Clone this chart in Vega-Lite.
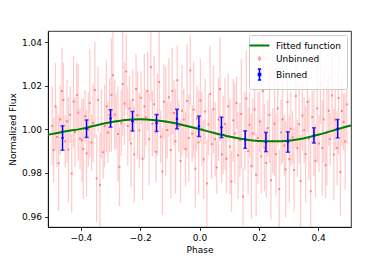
{
"$schema": "https://vega.github.io/schema/vega-lite/v6.json",
"autosize": {"type": "none"},
"padding": {"left": 48, "top": 31, "right": 39, "bottom": 33},
"width": 303,
"height": 196,
"background": "white",
"datasets": {
"curve": [
{"p":-0.511,"f":0.9975},{"p":-0.5,"f":0.9978},{"p":-0.45,"f":0.9991},{"p":-0.4,"f":1.0002},{"p":-0.35,"f":1.0018},{"p":-0.3,"f":1.0032},{"p":-0.25,"f":1.0043},{"p":-0.2,"f":1.0046},{"p":-0.15,"f":1.0042},{"p":-0.1,"f":1.0032},{"p":-0.05,"f":1.0018},{"p":0,"f":1.0001},{"p":0.05,"f":0.9983},{"p":0.1,"f":0.9967},{"p":0.15,"f":0.9955},{"p":0.2,"f":0.9947},{"p":0.25,"f":0.9945},{"p":0.3,"f":0.9948},{"p":0.35,"f":0.9958},{"p":0.4,"f":0.9975},{"p":0.45,"f":0.9994},{"p":0.5,"f":1.0014},{"p":0.511,"f":1.0018}
],
"bin": [
{"p":-0.462,"f":0.9960,"e":0.0056},{"p":-0.381,"f":1.0003,"e":0.0040},{"p":-0.300,"f":1.0050,"e":0.0040},{"p":-0.226,"f":1.0037,"e":0.0045},{"p":-0.145,"f":1.0029,"e":0.0039},{"p":-0.076,"f":1.0047,"e":0.0045},{"p":-0.002,"f":1.0014,"e":0.0047},{"p":0.074,"f":1.0009,"e":0.0047},{"p":0.154,"f":0.9953,"e":0.0040},{"p":0.224,"f":0.9942,"e":0.0044},{"p":0.298,"f":0.9942,"e":0.0047},{"p":0.386,"f":0.9972,"e":0.0035},{"p":0.466,"f":1.0003,"e":0.0042}
],
"unb": [
{"p":-0.497,"f":1.0015,"e":0.018},{"p":-0.492,"f":0.9905,"e":0.015},{"p":-0.486,"f":1.0105,"e":0.020},{"p":-0.481,"f":0.9965,"e":0.014},{"p":-0.475,"f":0.9845,"e":0.022},{"p":-0.470,"f":1.0045,"e":0.016},{"p":-0.464,"f":1.0175,"e":0.020},{"p":-0.459,"f":1.0135,"e":0.017},{"p":-0.453,"f":0.9945,"e":0.012},
{"p":-0.447,"f":1.0037,"e":0.019},{"p":-0.442,"f":0.9907,"e":0.024},{"p":-0.436,"f":1.0067,"e":0.013},{"p":-0.431,"f":0.9797,"e":0.018},{"p":-0.425,"f":1.0127,"e":0.021},{"p":-0.420,"f":0.9987,"e":0.016},{"p":-0.414,"f":1.0157,"e":0.015},{"p":-0.409,"f":1.0077,"e":0.022},{"p":-0.403,"f":0.9957,"e":0.014},
{"p":-0.397,"f":0.9950,"e":0.019},{"p":-0.392,"f":0.9910,"e":0.023},{"p":-0.386,"f":1.0060,"e":0.012},{"p":-0.381,"f":0.9890,"e":0.020},{"p":-0.375,"f":1.0000,"e":0.017},{"p":-0.370,"f":1.0120,"e":0.025},{"p":-0.364,"f":0.9940,"e":0.013},{"p":-0.359,"f":1.0030,"e":0.018},{"p":-0.353,"f":1.0180,"e":0.022},
{"p":-0.347,"f":0.9775,"e":0.020},{"p":-0.342,"f":1.0135,"e":0.015},{"p":-0.336,"f":0.9745,"e":0.024},{"p":-0.331,"f":1.0025,"e":0.016},{"p":-0.325,"f":0.9895,"e":0.012},{"p":-0.320,"f":1.0015,"e":0.019},{"p":-0.314,"f":1.0105,"e":0.021},{"p":-0.309,"f":0.9985,"e":0.014},{"p":-0.303,"f":1.0065,"e":0.017},
{"p":-0.297,"f":1.0158,"e":0.026},{"p":-0.292,"f":1.0248,"e":0.020},{"p":-0.286,"f":1.0068,"e":0.016},{"p":-0.281,"f":1.0038,"e":0.013},{"p":-0.275,"f":0.9978,"e":0.022},{"p":-0.270,"f":0.9828,"e":0.018},{"p":-0.264,"f":1.0028,"e":0.015},{"p":-0.259,"f":1.0208,"e":0.024},{"p":-0.253,"f":1.0118,"e":0.019},
{"p":-0.247,"f":1.0265,"e":0.017},{"p":-0.242,"f":1.0015,"e":0.018},{"p":-0.236,"f":1.0095,"e":0.015},{"p":-0.231,"f":0.9935,"e":0.020},{"p":-0.225,"f":1.0135,"e":0.014},{"p":-0.220,"f":0.9885,"e":0.022},{"p":-0.214,"f":1.0185,"e":0.016},{"p":-0.209,"f":1.0065,"e":0.020},{"p":-0.203,"f":0.9995,"e":0.017},
{"p":-0.197,"f":1.0145,"e":0.012},{"p":-0.192,"f":0.9865,"e":0.019},{"p":-0.186,"f":1.0105,"e":0.024},{"p":-0.181,"f":1.0055,"e":0.013},{"p":-0.175,"f":1.0175,"e":0.018},{"p":-0.170,"f":0.9955,"e":0.021},{"p":-0.164,"f":1.0285,"e":0.016},{"p":-0.159,"f":1.0025,"e":0.015},{"p":-0.153,"f":1.0115,"e":0.022},
{"p":-0.147,"f":0.9897,"e":0.014},{"p":-0.142,"f":1.0067,"e":0.019},{"p":-0.136,"f":1.0217,"e":0.023},{"p":-0.131,"f":0.9967,"e":0.012},{"p":-0.125,"f":0.9807,"e":0.020},{"p":-0.120,"f":1.0127,"e":0.017},{"p":-0.114,"f":1.0037,"e":0.025},{"p":-0.109,"f":0.9997,"e":0.013},{"p":-0.103,"f":1.0147,"e":0.018},
{"p":-0.097,"f":0.9905,"e":0.022},{"p":-0.092,"f":1.0175,"e":0.020},{"p":-0.086,"f":1.0075,"e":0.015},{"p":-0.081,"f":0.9945,"e":0.024},{"p":-0.075,"f":1.0225,"e":0.016},{"p":-0.070,"f":1.0015,"e":0.012},{"p":-0.064,"f":0.9855,"e":0.019},{"p":-0.059,"f":1.0085,"e":0.021},{"p":-0.053,"f":1.0045,"e":0.014},
{"p":-0.047,"f":0.9910,"e":0.017},{"p":-0.042,"f":1.0130,"e":0.026},{"p":-0.036,"f":0.9960,"e":0.020},{"p":-0.031,"f":1.0270,"e":0.016},{"p":-0.025,"f":0.9980,"e":0.013},{"p":-0.020,"f":1.0090,"e":0.022},{"p":-0.014,"f":0.9820,"e":0.018},{"p":-0.009,"f":1.0050,"e":0.015},{"p":-0.003,"f":0.9940,"e":0.024},
{"p":0.003,"f":1.0132,"e":0.019},{"p":0.008,"f":1.0002,"e":0.017},{"p":0.014,"f":0.9862,"e":0.018},{"p":0.019,"f":1.0082,"e":0.015},{"p":0.025,"f":0.9752,"e":0.020},{"p":0.030,"f":1.0022,"e":0.014},{"p":0.036,"f":1.0162,"e":0.022},{"p":0.041,"f":0.9932,"e":0.016},{"p":0.047,"f":1.0092,"e":0.020},
{"p":0.053,"f":0.9955,"e":0.017},{"p":0.058,"f":0.9825,"e":0.012},{"p":0.064,"f":1.0045,"e":0.019},{"p":0.069,"f":1.0185,"e":0.024},{"p":0.075,"f":0.9885,"e":0.013},{"p":0.080,"f":0.9975,"e":0.018},{"p":0.086,"f":1.0025,"e":0.021},{"p":0.091,"f":0.9865,"e":0.016},{"p":0.097,"f":1.0105,"e":0.015},
{"p":0.103,"f":0.9921,"e":0.022},{"p":0.108,"f":0.9761,"e":0.014},{"p":0.114,"f":1.0041,"e":0.019},{"p":0.119,"f":0.9981,"e":0.023},{"p":0.125,"f":1.0121,"e":0.012},{"p":0.130,"f":0.9881,"e":0.020},{"p":0.136,"f":0.9951,"e":0.017},{"p":0.141,"f":1.0071,"e":0.025},{"p":0.147,"f":0.9691,"e":0.013},
{"p":0.153,"f":0.9991,"e":0.018},{"p":0.158,"f":1.0141,"e":0.022},{"p":0.164,"f":0.9901,"e":0.020},{"p":0.169,"f":1.0021,"e":0.015},{"p":0.175,"f":0.9831,"e":0.024},{"p":0.180,"f":0.9981,"e":0.016},{"p":0.186,"f":1.0091,"e":0.012},{"p":0.191,"f":0.9791,"e":0.019},{"p":0.197,"f":0.9961,"e":0.021},
{"p":0.203,"f":1.0036,"e":0.014},{"p":0.208,"f":0.9876,"e":0.017},{"p":0.214,"f":1.0176,"e":0.026},{"p":0.219,"f":0.9916,"e":0.020},{"p":0.225,"f":0.9846,"e":0.016},{"p":0.230,"f":1.0006,"e":0.013},{"p":0.236,"f":1.0066,"e":0.022},{"p":0.241,"f":0.9766,"e":0.018},{"p":0.247,"f":0.9946,"e":0.015},
{"p":0.253,"f":1.0026,"e":0.024},{"p":0.258,"f":0.9886,"e":0.019},{"p":0.264,"f":1.0096,"e":0.017},{"p":0.269,"f":0.9726,"e":0.018},{"p":0.275,"f":0.9986,"e":0.015},{"p":0.280,"f":1.0046,"e":0.020},{"p":0.286,"f":0.9926,"e":0.014},{"p":0.291,"f":0.9816,"e":0.022},{"p":0.297,"f":1.0126,"e":0.016},
{"p":0.303,"f":0.9863,"e":0.020},{"p":0.308,"f":1.0003,"e":0.017},{"p":0.314,"f":0.9963,"e":0.012},{"p":0.319,"f":0.9813,"e":0.019},{"p":0.325,"f":1.0153,"e":0.024},{"p":0.330,"f":0.9913,"e":0.013},{"p":0.336,"f":1.0023,"e":0.018},{"p":0.341,"f":0.9763,"e":0.021},{"p":0.347,"f":1.0063,"e":0.016},
{"p":0.353,"f":0.9996,"e":0.015},{"p":0.358,"f":0.9886,"e":0.022},{"p":0.364,"f":1.0126,"e":0.014},{"p":0.369,"f":0.9956,"e":0.019},{"p":0.375,"f":0.9716,"e":0.023},{"p":0.380,"f":1.0056,"e":0.012},{"p":0.386,"f":0.9986,"e":0.020},{"p":0.391,"f":0.9856,"e":0.017},{"p":0.397,"f":1.0096,"e":0.025},
{"p":0.403,"f":0.9935,"e":0.013},{"p":0.408,"f":1.0205,"e":0.018},{"p":0.414,"f":0.9915,"e":0.022},{"p":0.419,"f":1.0045,"e":0.020},{"p":0.425,"f":0.9835,"e":0.015},{"p":0.430,"f":0.9985,"e":0.024},{"p":0.436,"f":1.0085,"e":0.016},{"p":0.441,"f":0.9955,"e":0.012},{"p":0.447,"f":1.0155,"e":0.019},
{"p":0.453,"f":0.9884,"e":0.021},{"p":0.458,"f":1.0044,"e":0.014},{"p":0.464,"f":0.9914,"e":0.017},{"p":0.469,"f":1.0144,"e":0.026},{"p":0.475,"f":0.9804,"e":0.020},{"p":0.480,"f":1.0084,"e":0.016},{"p":0.486,"f":1.0034,"e":0.013},{"p":0.491,"f":0.9944,"e":0.022},{"p":0.497,"f":1.0114,"e":0.018}
]
},
"layer": [
{
"data": {"name": "unb"},
"mark": {"type": "errorbar", "opacity": 0.2, "thickness": 1.3, "clip": true},
"encoding": {
"x": {"field": "p", "type": "quantitative", "title": "Phase",
"scale": {"domain": [-0.511, 0.511], "nice": false, "zero": false},
"axis": {"values": [-0.4, -0.2, 0, 0.2, 0.4], "format": ".1f", "titlePadding": 3, "labelFlush": false}},
"y": {"field": "f", "type": "quantitative", "title": "Normalized Flux",
"scale": {"domain": [0.9552, 1.0451], "nice": false, "zero": false},
"axis": {"values": [0.96, 0.97, 0.98, 0.99, 1.0, 1.01, 1.02, 1.03, 1.04], "format": ".2f", "titlePadding": 4, "labelFlush": false}},
"yError": {"field": "e"},
"color": {"datum": "Unbinned", "type": "nominal"}
}
},
{
"data": {"name": "unb"},
"mark": {"type": "point", "shape": "square", "filled": true, "size": 4, "opacity": 0.4, "clip": true},
"encoding": {
"x": {"field": "p", "type": "quantitative", "title": "Phase"},
"y": {"field": "f", "type": "quantitative", "title": "Normalized Flux"},
"color": {"datum": "Unbinned", "type": "nominal"}
}
},
{
"data": {"name": "curve"},
"mark": {"type": "line", "strokeWidth": 2, "interpolate": "monotone", "clip": true},
"encoding": {
"x": {"field": "p", "type": "quantitative", "title": "Phase"},
"y": {"field": "f", "type": "quantitative", "title": "Normalized Flux"},
"color": {"datum": "Fitted function", "type": "nominal",
"scale": {"domain": ["Fitted function", "Unbinned", "Binned"], "range": ["#008000", "#ff0000", "#0000ff"]},
"legend": {"title": null, "orient": "top-right", "offset": 4, "padding": 6,
"fillColor": "rgba(255,255,255,0.8)", "strokeColor": "#cccccc", "cornerRadius": 2,
"labelFont": "DejaVu Sans", "labelFontSize": 9, "labelColor": "black",
"symbolSize": 121, "labelOffset": 12, "rowPadding": 2,
"symbolStrokeWidth": 1.5,
"encode": {"symbols": {"update": {
"shape": {"signal": "datum.value === 'Fitted function' ? 'M-1.8,0H1.8' : datum.value === 'Unbinned' ? 'M0,-0.45V0.45M-0.15,-0.15H0.15V0.15H-0.15Z' : 'M-0.3,-1H0.3M0,-1V1M-0.3,1H0.3M-0.2,-0.2H0.2V0.2H-0.2Z'"},
"stroke": {"signal": "scale('color', datum.value)"},
"fill": {"signal": "scale('color', datum.value)"},
"strokeWidth": {"signal": "datum.value === 'Fitted function' ? 2 : 1.5"},
"opacity": {"signal": "datum.value === 'Unbinned' ? 0.35 : 1"}
}}}
}
}
}
},
{
"data": {"name": "bin"},
"mark": {"type": "errorbar", "thickness": 1.5, "ticks": {"size": 4}, "clip": true},
"encoding": {
"x": {"field": "p", "type": "quantitative", "title": "Phase"},
"y": {"field": "f", "type": "quantitative", "title": "Normalized Flux"},
"yError": {"field": "e"},
"color": {"datum": "Binned", "type": "nominal"}
}
},
{
"data": {"name": "bin"},
"mark": {"type": "point", "shape": "circle", "filled": true, "size": 6, "opacity": 1},
"encoding": {
"x": {"field": "p", "type": "quantitative", "title": "Phase"},
"y": {"field": "f", "type": "quantitative", "title": "Normalized Flux"},
"color": {"datum": "Binned", "type": "nominal"}
}
}
],
"config": {
"view": {"stroke": "black", "strokeWidth": 0.8},
"axis": {"domainColor": "black", "domainWidth": 0.8, "tickColor": "black", "tickWidth": 0.8, "tickSize": 3.5,
"labelFont": "DejaVu Sans", "labelFontSize": 9, "labelColor": "black", "labelPadding": 3,
"titleFont": "DejaVu Sans", "titleFontSize": 9, "titleFontWeight": "normal", "titleColor": "black", "grid": false}
}
}
